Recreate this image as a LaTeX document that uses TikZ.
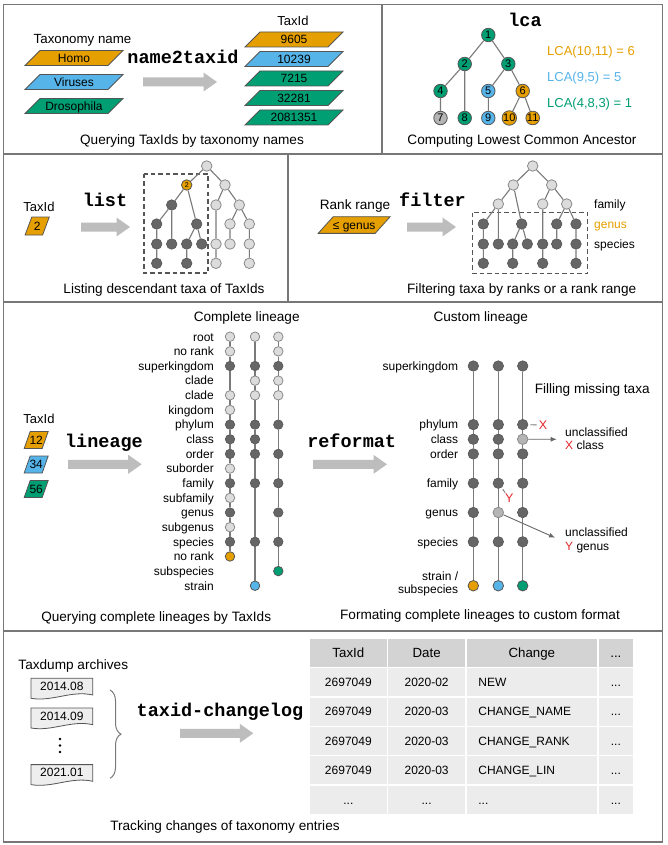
\documentclass[tikz,border=0pt]{standalone}
\usepackage{fontspec}
\setmainfont{Liberation Sans}
\newfontfamily\cmdfam{Liberation Mono}
\usetikzlibrary{arrows.meta,decorations.pathreplacing}
\definecolor{cor}{HTML}{E69F00}
\definecolor{cbl}{HTML}{56B4E9}
\definecolor{cgr}{HTML}{009E73}
\definecolor{cdk}{HTML}{666666}
\definecolor{cdkline}{HTML}{555555}
\definecolor{clt}{HTML}{DCDCDC}
\definecolor{cltline}{HTML}{8A8A8A}
\definecolor{cmid}{HTML}{B5B5B5}
\definecolor{carrow}{HTML}{BDBDBD}
\definecolor{cframe}{HTML}{777777}
\definecolor{cedge}{HTML}{7A7A7A}
\definecolor{cred}{HTML}{E3262A}
\definecolor{chead}{HTML}{D3D3D3}
\definecolor{ccell}{HTML}{ECECEC}
\definecolor{cdoc}{HTML}{EEEEEE}
\newcommand\fcap{\fontsize{13.6}{16}\selectfont}
\newcommand\flbl{\fontsize{13}{15}\selectfont}
\newcommand\fsm{\fontsize{12}{14}\selectfont}
\newcommand\fnum{\fontsize{11}{13}\selectfont}
\newcommand\fcmd{\fontsize{18.5}{20}\selectfont\cmdfam\bfseries}
\newcommand\tdots{...}
% parallelogram: name, cx, cy, edge length, height, slant, colour, text
\newcommand\mypara[8]{%
  \filldraw[fill=#7, draw=cdkline, line width=0.8pt]
    (#2-#4/2-#6/2, #3+#5/2) -- ++(#4,0) -- ++(#6,-#5) -- ++(-#4,0) -- cycle;
  \node[smtxt] (#1) at (#2,#3) {#8};}
% big gray arrow: x1, x2, y
\newcommand\mybigarrow[3]{%
  \fill[carrow] (#1,#3-4.5) -- (#2-13.5,#3-4.5) -- (#2-13.5,#3-9.5) -- (#2,#3)
    -- (#2-13.5,#3+9.5) -- (#2-13.5,#3+4.5) -- (#1,#3+4.5) -- cycle;}
% document shape: name, cx, cy, text
\newcommand\mydoc[4]{%
  \filldraw[fill=cdoc, draw=cdkline, line width=0.8pt]
    (#2-30.85,#3-7.7) -- (#2+30.85,#3-7.7) -- (#2+30.85,#3+9)
    .. controls (#2+10,#3+4) and (#2-10,#3+16) .. (#2-30.85,#3+12.3) -- cycle;
  \node[smtxt] (#1) at (#2,#3) {#4};}
\begin{document}
\begin{tikzpicture}[x=1pt,y=-1pt,
  captxt/.style={font=\fcap, inner sep=0pt, text height=9.7pt, text depth=0pt},
  lbltxt/.style={font=\flbl, inner sep=0pt, text height=9.3pt, text depth=0pt},
  smtxt/.style={font=\fsm, inner sep=0pt, text height=8.6pt, text depth=0pt},
  lcatxt/.style={font=\fontsize{13}{15}\selectfont, inner sep=0pt, text height=9.3pt, text depth=0pt, anchor=west},
  cmdt/.style={font=\fcmd, inner sep=0pt, text height=11pt, text depth=0pt},
  panelline/.style={draw=cframe, line width=1.5pt},
  treeedge/.style={draw=cedge, line width=1.1pt},
  thinline/.style={draw=cedge, line width=0.9pt},
  annarrow/.style={draw=cdk, line width=0.9pt, -{Latex[length=6pt,width=5pt]}},
  lcanode/.style={circle, inner sep=0pt, minimum size=13.5pt, draw=cdkline, line width=0.8pt, font=\fnum},
  dkn/.style={circle, inner sep=0pt, minimum size=10.5pt, fill=cdk, draw=cdkline, line width=0.6pt},
  ltn/.style={circle, inner sep=0pt, minimum size=10.5pt, fill=clt, draw=cltline, line width=0.8pt},
  mdn/.style={circle, inner sep=0pt, minimum size=10.5pt, fill=cmid, draw=cltline, line width=0.8pt},
  cln/.style={circle, inner sep=0pt, minimum size=10.5pt, draw=cdkline, line width=0.8pt},
  dashbox/.style={draw=cdkline, line width=1.2pt, dash pattern=on 4.5pt off 3pt},
  hdcell/.style={fill=chead, inner sep=0pt, minimum height=27.7pt, font=\fontsize{13.3}{15}\selectfont, text height=9.5pt, text depth=0pt},
  bdcell/.style={fill=ccell, inner sep=0pt, minimum height=28pt, font=\fsm, text height=8.6pt, text depth=0pt}
]
\useasboundingbox (0,0) rectangle (667,845);
\fill[white] (0,0) rectangle (667,845);
% ---------- frame ----------
\draw[panelline] (3.5,4.5) rectangle (662.5,842);
\draw[panelline] (3.5,154) -- (662.5,154);
\draw[panelline] (3.5,302) -- (662.5,302);
\draw[panelline] (3.5,631) -- (662.5,631);
\draw[panelline] (382,4.5) -- (382,154);
\draw[panelline] (288,154) -- (288,302);

% ---------- panel 1: name2taxid ----------
\node[lbltxt, font=\fontsize{13.3}{15}\selectfont] (tname) at (82.5,39) {Taxonomy name};
\mypara{homo}{74}{58}{83}{15}{15}{cor}{Homo}
\mypara{viruses}{74}{82}{83}{15}{15}{cbl}{Viruses}
\mypara{droso}{74}{106}{83}{15}{15}{cgr}{Drosophila}
\node[cmdt] (n2t) at (183,58) {name2taxid};
\mybigarrow{143}{217}{82}
\node[lbltxt] (tid1) at (293,20.5) {TaxId};
\mypara{id1}{294}{39.5}{83}{15}{15}{cor}{9605}
\mypara{id2}{294}{59}{83}{15}{15}{cbl}{10239}
\mypara{id3}{294}{78.5}{83}{15}{15}{cgr}{7215}
\mypara{id4}{294}{98}{83}{15}{15}{cgr}{32281}
\mypara{id5}{294}{117.5}{83}{15}{15}{cgr}{2081351}
\node[captxt] (cap1) at (192,139.5) {Querying TaxIds by taxonomy names};

% ---------- panel 2: lca ----------
\node[cmdt] (lcacmd) at (525,21) {lca};
\node[lcanode, fill=cgr] (l1) at (488.3,35) {1};
\node[lcanode, fill=cgr] (l2) at (464.7,64) {2};
\node[lcanode, fill=cgr] (l3) at (508.3,64) {3};
\node[lcanode, fill=cgr] (l4) at (440.5,91) {4};
\node[lcanode, fill=cbl] (l5) at (488.3,91) {5};
\node[lcanode, fill=cor] (l6) at (522.7,91) {6};
\node[lcanode, fill=cmid] (l7) at (440.5,118) {7};
\node[lcanode, fill=cgr] (l8) at (464.7,118) {8};
\node[lcanode, fill=cbl] (l9) at (488.3,118) {9};
\node[lcanode, fill=cor] (l10) at (509.3,118) {10};
\node[lcanode, fill=cor] (l11) at (532.7,118) {11};
\draw[treeedge] (l1)--(l2) (l1)--(l3) (l2)--(l4) (l2)--(l8) (l3)--(l5) (l3)--(l6)
  (l4)--(l7) (l5)--(l9) (l6)--(l10) (l6)--(l11);
\node[lcatxt, text=cor] (lcaa) at (547,50.8) {LCA(10,11) = 6};
\node[lcatxt, text=cbl] (lcab) at (547,77) {LCA(9,5) = 5};
\node[lcatxt, text=cgr] (lcac) at (547,103) {LCA(4,8,3) = 1};
\node[captxt] (cap2) at (522,139.5) {Computing Lowest Common Ancestor};

% ---------- panel 3: list ----------
\node[lbltxt] (tid3) at (39,207) {TaxId};
\mypara{p2}{37.2}{226}{17.5}{18}{6.7}{cor}{2}
\node[cmdt] (listcmd) at (105,201) {list};
\mybigarrow{81}{130}{227}
\draw[dashbox] (144,174) rectangle (208,273);
\node[ltn] (sR) at (206.7,166) {};
\node[cln, fill=cor, font=\fontsize{7}{8}\selectfont] (sA) at (186.7,185) {2};
\node[ltn] (sB) at (225,185) {};
\node[dkn] (sC) at (171.7,205) {};
\node[dkn] (sD) at (196.7,224) {};
\node[dkn] (sE) at (156.7,224) {};
\node[dkn] (sF) at (171.7,244) {};
\node[dkn] (sE1) at (156.7,244) {};
\node[dkn] (sE2) at (156.7,263.3) {};
\node[dkn] (sD1) at (186.7,244) {};
\node[dkn] (sD2) at (201.7,244) {};
\node[dkn] (sD11) at (186.7,263.3) {};
\node[ltn] (sB1) at (216,205) {};
\node[ltn] (sB2) at (239.3,205) {};
\node[ltn] (sB1a) at (216,244) {};
\node[ltn] (sB1b) at (216,263.3) {};
\node[ltn] (sB2a) at (230,224) {};
\node[ltn] (sB2b) at (249.3,224) {};
\node[ltn] (sB2a1) at (230,244) {};
\node[ltn] (sB2b1) at (249.3,244) {};
\node[ltn] (sB2b2) at (249.3,263.3) {};
\draw[treeedge] (sR)--(sA) (sR)--(sB) (sA)--(sC) (sA)--(sD) (sC)--(sE) (sC)--(sF)
  (sE)--(sE1) (sE1)--(sE2) (sD)--(sD1) (sD)--(sD2) (sD1)--(sD11)
  (sB)--(sB1) (sB)--(sB2) (sB1)--(sB1a) (sB1a)--(sB1b) (sB2)--(sB2a) (sB2)--(sB2b)
  (sB2a)--(sB2a1) (sB2b)--(sB2b1) (sB2b1)--(sB2b2);
\node[captxt] (cap3) at (164,289) {Listing descendant taxa of TaxIds};

% ---------- panel 4: filter ----------
\node[captxt] (rr) at (355,205) {Rank range};
\mypara{pg}{354.2}{225}{57}{16.7}{15}{cor}{≤ genus}
\node[cmdt] (filtcmd) at (432.5,201) {filter};
\mybigarrow{407}{456}{227}
\draw[dashbox] (472.7,212.7) rectangle (587.7,273.3);
\node[ltn] (fR) at (532.7,166) {};
\node[ltn] (fA) at (513.3,185) {};
\node[ltn] (fB) at (551.7,185) {};
\node[ltn] (fa) at (498.3,204) {};
\node[ltn] (fb) at (542.7,204) {};
\node[ltn] (fc) at (566.7,204) {};
\node[dkn] (g1) at (483.3,224) {};
\node[dkn] (g2) at (521.7,224) {};
\node[dkn] (g3) at (556.7,224) {};
\node[dkn] (g4) at (576,224) {};
\node[dkn] (s1) at (483.3,244) {};
\node[dkn] (s2) at (498.3,244) {};
\node[dkn] (s3) at (512.7,244) {};
\node[dkn] (s4) at (527.3,244) {};
\node[dkn] (s5) at (542.7,244) {};
\node[dkn] (s6) at (556.7,244) {};
\node[dkn] (s7) at (576,244) {};
\node[dkn] (t1) at (483.3,263.3) {};
\node[dkn] (t3) at (512.7,263.3) {};
\node[dkn] (t5) at (542.7,263.3) {};
\node[dkn] (t7) at (576,263.3) {};
\draw[treeedge] (fR)--(fA) (fR)--(fB) (fA)--(fa) (fA)--(g2) (fB)--(fb) (fB)--(fc)
  (fa)--(g1) (fa)--(s2) (g1)--(s1) (s1)--(t1) (g2)--(s3) (g2)--(s4) (s3)--(t3)
  (fb)--(s5) (s5)--(t5) (fc)--(g3) (fc)--(g4) (g3)--(s6) (g4)--(s7) (s7)--(t7);
\node[smtxt, anchor=west] (rkfam) at (594,204) {family};
\node[smtxt, anchor=west, text=cor] (rkgen) at (594,224) {genus};
\node[smtxt, anchor=west] (rkspe) at (594,244) {species};
\node[captxt] (cap4) at (521.7,289) {Filtering taxa by ranks or a rank range};

% ---------- panel 5: lineage ----------
\node[lbltxt] (tid5) at (39,419) {TaxId};
\mypara{q12}{36.2}{440}{18}{17}{6}{cor}{12}
\mypara{q34}{36.2}{464.5}{18}{17}{6}{cbl}{34}
\mypara{q56}{36.2}{489}{18}{17}{6}{cgr}{56}
\node[cmdt] (lincmd) at (104,442) {lineage};
\mybigarrow{68}{141.7}{464.3}
\node[captxt] (cl) at (246.7,316.7) {Complete lineage};
\foreach \i/\s in {0/root,1/no rank,2/superkingdom,3/clade,4/clade,5/kingdom,6/phylum,7/class,8/order,9/suborder,10/family,11/subfamily,12/genus,13/subgenus,14/species,15/no rank,16/subspecies,17/strain}
  \node[smtxt, anchor=east] (rk\i) at (214,336.7+14.65*\i) {\s};
\foreach \i/\t in {0/ltn,1/ltn,2/dkn,4/ltn,5/ltn,6/dkn,7/dkn,8/dkn,9/ltn,10/dkn,11/ltn,12/dkn,13/ltn,14/dkn}
  \node[\t, minimum size=9.5pt] (a\i) at (230,336.7+14.65*\i) {};
\node[cln, minimum size=9.5pt, fill=cor] (a15) at (230,336.7+14.65*15) {};
\foreach \i/\t in {0/ltn,2/dkn,3/ltn,4/ltn,6/dkn,7/dkn,8/dkn,10/dkn,14/dkn}
  \node[\t, minimum size=9.5pt] (b\i) at (255,336.7+14.65*\i) {};
\node[cln, minimum size=9.5pt, fill=cbl] (b17) at (255,336.7+14.65*17) {};
\foreach \i/\t in {0/ltn,1/ltn,2/dkn,3/ltn,4/ltn,6/dkn,8/dkn,10/dkn,12/dkn,14/dkn}
  \node[\t, minimum size=9.5pt] (c\i) at (278.3,336.7+14.65*\i) {};
\node[cln, minimum size=9.5pt, fill=cgr] (c16) at (278.3,336.7+14.65*16) {};
\draw[treeedge] (a0)--(a1)--(a2)--(a4)--(a5)--(a6)--(a7)--(a8)--(a9)--(a10)--(a11)--(a12)--(a13)--(a14)--(a15);
\draw[treeedge] (b0)--(b2)--(b3)--(b4)--(b6)--(b7)--(b8)--(b10)--(b14)--(b17);
\draw[treeedge] (c0)--(c1)--(c2)--(c3)--(c4)--(c6)--(c8)--(c10)--(c12)--(c14)--(c16);
\node[captxt] (cap5) at (156.2,617) {Querying complete lineages by TaxIds};

% ---------- panel 6: reformat ----------
\node[captxt] (cul) at (480.8,316.7) {Custom lineage};
\node[cmdt] (refcmd) at (351.7,441.7) {reformat};
\mybigarrow{313}{387}{464.3}
\foreach \n/\i/\s in {sk/2/superkingdom,ph/6/phylum,cl/7/class,or/8/order,fa/10/family,ge/12/genus,sp/14/species}
  \node[smtxt, anchor=east] (cr\n) at (458.3,336.7+14.65*\i) {\s};
\node[smtxt, anchor=east] (crst1) at (458.3,576) {strain /};
\node[smtxt, anchor=east] (crst2) at (458.3,589.3) {subspecies};
\foreach \n/\i in {sk/2,ph/6,cl/7,or/8,fa/10,ge/12,sp/14}
  \node[dkn] (u\n) at (473.3,336.7+14.65*\i) {};
\foreach \n/\i/\t in {sk/2/dkn,ph/6/dkn,cl/7/dkn,or/8/dkn,fa/10/dkn,ge/12/mdn,sp/14/dkn}
  \node[\t] (v\n) at (498.3,336.7+14.65*\i) {};
\foreach \n/\i/\t in {sk/2/dkn,ph/6/dkn,cl/7/mdn,or/8/dkn,fa/10/dkn,ge/12/dkn,sp/14/dkn}
  \node[\t] (w\n) at (522.7,336.7+14.65*\i) {};
\node[cln, fill=cor] (ust) at (473.3,585.75) {};
\node[cln, fill=cbl] (vst) at (498.3,585.75) {};
\node[cln, fill=cgr] (wst) at (522.7,585.75) {};
\draw[treeedge] (usk)--(uph)--(ucl)--(uor)--(ufa)--(uge)--(usp)--(ust);
\draw[treeedge] (vsk)--(vph)--(vcl)--(vor)--(vfa)--(vge)--(vsp)--(vst);
\draw[treeedge] (wsk)--(wph)--(wcl)--(wor)--(wfa)--(wge)--(wsp)--(wst);
\node[captxt] (fillt) at (592.2,388.3) {Filling missing taxa};
\node[smtxt, font=\fontsize{12.5}{14}\selectfont, text=cred] (xl) at (543,425) {X};
\draw[thinline, shorten <=2pt, shorten >=2pt] (wph) -- (xl);
\coordinate (xa) at (556.7,439.3);
\draw[annarrow] (wcl) -- (xa);
\node[smtxt, anchor=west] (ux1) at (565,431.7) {unclassified};
\node[smtxt, anchor=west] (ux2) at (565,445) {\textcolor{cred}{X} class};
\node[smtxt, font=\fontsize{12.5}{14}\selectfont, text=cred] (yl) at (509.3,498.3) {Y};
\draw[thinline, shorten <=2pt, shorten >=1.5pt] (vfa) -- (yl);
\coordinate (ya) at (555,537.7);
\draw[annarrow] (vge) -- (ya);
\node[smtxt, anchor=west] (uy1) at (565,531.7) {unclassified};
\node[smtxt, anchor=west] (uy2) at (565,546) {\textcolor{cred}{Y} genus};
\node[captxt] (cap6) at (480,615) {Formating complete lineages to custom format};

% ---------- panel 7: taxid-changelog ----------
\node[captxt] (tda) at (73.3,665) {Taxdump archives};
\mydoc{d1}{61.85}{686}{2014.08}
\mydoc{d2}{61.85}{715.7}{2014.09}
\fill[black] (60,739) circle[radius=1.3pt] (60,745.5) circle[radius=1.3pt] (60,752) circle[radius=1.3pt];
\mydoc{d3}{61.85}{772.3}{2021.01}
\draw[draw=cedge, line width=1pt, decorate, decoration={brace, amplitude=11pt}] (110,690) -- (110,778.3);
\node[cmdt] (tclcmd) at (220,711) {taxid-changelog};
\mybigarrow{180}{253.3}{733.3}
\node[hdcell, minimum width=76.7pt] (h1) at (348.35,653.15) {TaxId};
\node[hdcell, minimum width=76.7pt] (h2) at (426.65,653.15) {Date};
\node[hdcell, minimum width=130.3pt] (h3) at (531.85,653.15) {Change};
\node[hdcell, minimum width=34.3pt] (h4) at (615.85,653.15) {\tdots};
\foreach \a/\b/\c [count=\r] in {2697049/2020-02/NEW,2697049/2020-03/CHANGE\_NAME,2697049/2020-03/CHANGE\_RANK,2697049/2020-03/CHANGE\_LIN,\tdots/\tdots/\tdots} {
  \pgfmathsetmacro\yy{682.2+29.4*(\r-1)}
  \node[bdcell, minimum width=76.7pt] (r\r-1) at (348.35,\yy) {\a};
  \node[bdcell, minimum width=76.7pt] (r\r-2) at (426.65,\yy) {\b};
  \node[bdcell, minimum width=130.3pt, text width=107pt, align=left] (r\r-3) at (531.85,\yy) {\c};
  \node[bdcell, minimum width=34.3pt] (r\r-4) at (615.85,\yy) {\tdots};
}
\node[captxt] (cap7) at (225,825.5) {Tracking changes of taxonomy entries};
\end{tikzpicture}
\end{document}
